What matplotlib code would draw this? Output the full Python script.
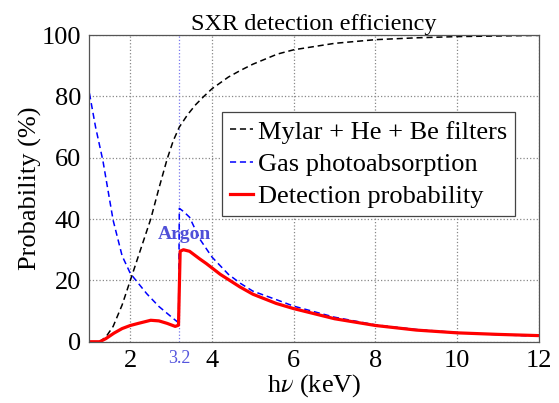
import numpy as np
import matplotlib
matplotlib.use("Agg")
import matplotlib.pyplot as plt

# DATA
mylar_x = [1.0, 1.25, 1.4, 1.58, 1.8, 2.0, 2.25, 2.5, 2.7, 2.9, 3.05, 3.2, 3.4, 3.6, 3.8, 4.0, 4.4, 4.7, 5.0, 5.6, 6.0, 7.0, 8.0, 9.0, 10.0, 11.0, 12.0]
mylar_y = [0.0, 0.0, 1.5, 5.0, 12.0, 20.0, 30.0, 40.0, 50.0, 59.5, 65.5, 70.0, 74.0, 77.3, 80.0, 82.5, 86.3, 88.5, 90.5, 93.8, 95.2, 97.3, 98.5, 99.1, 99.5, 99.7, 99.9]

gas_x = [1.0, 1.15, 1.33, 1.58, 1.8, 2.0, 2.2, 2.4, 2.7, 3.05, 3.18, 3.2, 3.3, 3.45, 3.7, 4.0, 4.4, 4.7, 5.0, 5.6, 6.0, 7.0, 8.0, 9.0, 10.0, 11.0, 12.0]
gas_y = [81.0, 70.0, 59.0, 39.6, 28.0, 22.3, 19.0, 15.7, 11.5, 7.6, 6.2, 43.5, 42.5, 40.6, 33.5, 27.6, 22.0, 19.0, 16.5, 13.6, 11.6, 8.0, 5.5, 4.0, 3.0, 2.3, 1.8]

det_x = [1.0, 1.25, 1.4, 1.6, 1.8, 2.0, 2.2, 2.5, 2.7, 2.9, 3.1, 3.18, 3.22, 3.3, 3.45, 3.7, 3.86, 4.2, 4.68, 5.0, 5.57, 6.0, 7.0, 8.0, 9.0, 10.0, 11.0, 12.0]
det_y = [0.0, 0.0, 1.0, 2.8, 4.3, 5.3, 6.0, 7.0, 6.8, 6.0, 5.0, 5.4, 29.5, 30.0, 29.5, 27.0, 25.5, 22.0, 17.9, 15.5, 12.5, 10.8, 7.5, 5.3, 3.8, 2.9, 2.4, 2.0]

xticks = [2, 3.2, 4, 6, 8, 10, 12]
xtick_labels = ["2", "3.2", "4", "6", "8", "10", "12"]

plt.rcParams["font.family"] = ["Liberation Serif", "DejaVu Serif"]
plt.rcParams["mathtext.fontset"] = "stix"

fig = plt.figure(figsize=(5.59, 4.03), dpi=100)
ax = fig.add_axes([0.160, 0.152, 0.804, 0.761])

ax.plot(mylar_x, mylar_y, color="black", linestyle=(0, (4, 2.5)), linewidth=1.1, label="Mylar + He + Be filters")
ax.plot(gas_x, gas_y, color="blue", linestyle=(0, (4, 2.5)), linewidth=1.1, label="Gas photoabsorption")
ax.plot(det_x, det_y, color="red", linestyle="-", linewidth=2.3, label="Detection probability")

ax.set_xlim(1, 12)
ax.set_ylim(0, 100)
ax.set_xticks(xticks)
ax.set_xticklabels(xtick_labels)
ax.set_yticks([0, 20, 40, 60, 80, 100])
ax.tick_params(labelsize=19, direction="in", length=0, pad=6)
ax.grid(True, linestyle=":", color="#888888", linewidth=0.9)

# blue tick + gridline at the argon edge
for lbl, t in zip(ax.get_xticklabels(), xticks):
    if t == 3.2:
        lbl.set_color("#5555dd")
        lbl.set_fontsize(13)
for gl, t in zip(ax.get_xgridlines(), xticks):
    if t == 3.2:
        gl.set_color("#7777ee")

for sp in ax.spines.values():
    sp.set_color("#555555")
    sp.set_linewidth(0.9)

ax.set_title("SXR detection efficiency", fontsize=17.5, pad=3)
ax.set_xlabel("h$\\nu$ (keV)", fontsize=19, labelpad=0)
ax.set_ylabel("Probability (%)", fontsize=19, labelpad=0)

ax.text(3.33, 35, "Argon", color="#5050d8", fontsize=14, fontweight="bold", ha="center", va="center")

leg = ax.legend(loc="upper left", bbox_to_anchor=(0.296, 0.748), fontsize=19, handlelength=0.85,
                handletextpad=0.2, borderpad=0.3, borderaxespad=0, labelspacing=0.33,
                fancybox=False, framealpha=1)
leg.get_frame().set_edgecolor("#444444")
leg.get_frame().set_linewidth(0.9)

fig.savefig("out.png", dpi=100)
